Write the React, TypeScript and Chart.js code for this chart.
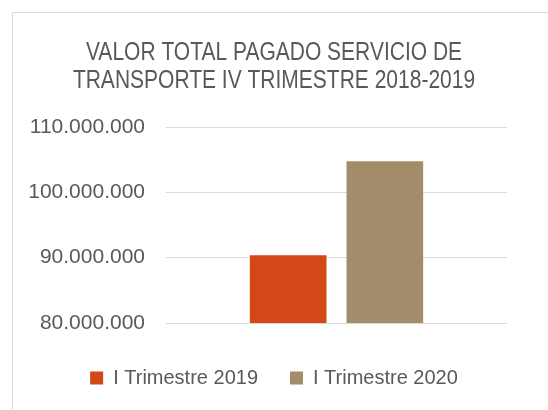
import React, { useEffect, useRef } from "react";
import { Chart, registerables } from "chart.js";

Chart.register(...registerables);

const categories = [""];
const seriesNames = ["I Trimestre 2019", "I Trimestre 2020"];
const values2019 = [90370000];
const values2020 = [104760000];
const yTicks = [80000000, 90000000, 100000000, 110000000];
const titleLines = ["VALOR TOTAL PAGADO SERVICIO DE", "TRANSPORTE IV TRIMESTRE 2018-2019"];
const colors = ["#D34817", "#A38C6A"];

const fmt = (v: number) => v.toString().replace(/\B(?=(\d{3})+(?!\d))/g, ".");

const frame = {
  id: "frame",
  beforeDraw(chart: any) {
    const ctx = chart.ctx;
    ctx.save();
    ctx.fillStyle = "#ffffff";
    ctx.fillRect(0, 0, chart.width, chart.height);
    ctx.strokeStyle = "#d9d9d9";
    ctx.lineWidth = 1;
    ctx.beginPath();
    ctx.moveTo(12.5, chart.height);
    ctx.lineTo(12.5, 12.5);
    ctx.lineTo(chart.width, 12.5);
    ctx.stroke();
    ctx.restore();
  },
};

// Title drawn in a condensed form (the reference uses a narrow face)
const narrowTitle = {
  id: "narrowTitle",
  afterDraw(chart: any) {
    const ctx = chart.ctx;
    ctx.save();
    ctx.fillStyle = "#595959";
    ctx.font = "25px 'Liberation Sans', Arial, sans-serif";
    ctx.textAlign = "center";
    ctx.textBaseline = "alphabetic";
    const baselines = [60, 88];
    titleLines.forEach((line, i) => {
      ctx.save();
      ctx.translate(chart.width / 2, baselines[i]);
      ctx.scale(0.84, 1);
      ctx.fillText(line, 0, 0);
      ctx.restore();
    });
    ctx.restore();
  },
};

export default function App() {
  const ref = useRef<HTMLCanvasElement>(null);
  useEffect(() => {
    const chart = new Chart(ref.current!, {
      type: "bar",
      data: {
        labels: categories,
        datasets: [
          { label: seriesNames[0], data: values2019, backgroundColor: colors[0], yAxisID: "y" },
          { label: seriesNames[1], data: values2020, backgroundColor: colors[1], yAxisID: "y" },
        ],
      },
      options: {
        animation: false,
        responsive: false,
        events: [],
        layout: { padding: { left: 0, right: 0, top: 127, bottom: 12 } },
        datasets: { bar: { categoryPercentage: 0.567, barPercentage: 0.793 } },
        scales: {
          x: {
            grid: { display: false },
            border: { display: false },
            ticks: { display: false },
            afterFit: (s: any) => { s.height = 13; },
          },
          y: {
            min: 80000000,
            max: 110000000,
            afterBuildTicks: (s: any) => { s.ticks = yTicks.map((v) => ({ value: v })); },
            afterFit: (s: any) => { s.width = 166; },
            grid: { color: "#d9d9d9", drawTicks: false, lineWidth: 1 },
            border: { display: false },
            ticks: {
              padding: 21,
              color: "#595959",
              font: { family: "Liberation Sans", size: 21 },
              callback: (v: any) => fmt(Number(v)),
            },
          },
          yRight: {
            position: "right",
            min: 80000000,
            max: 110000000,
            grid: { display: false },
            border: { display: false },
            ticks: { display: false },
            afterFit: (s: any) => { s.width = 41; },
          },
        },
        plugins: {
          tooltip: { enabled: false },
          title: { display: false },
          legend: {
            position: "bottom",
            labels: {
              boxWidth: 13,
              boxHeight: 13,
              padding: 32,
              color: "#595959",
              font: { family: "Liberation Sans", size: 20 },
            },
          },
        },
      },
      plugins: [frame, narrowTitle],
    } as any);
    return () => chart.destroy();
  }, []);
  return (
    <div style={{ position: "fixed", left: 0, top: 0, width: 548, height: 410 }}>
      <canvas ref={ref} width={548} height={410} style={{ display: "block" }} />
    </div>
  );
}
